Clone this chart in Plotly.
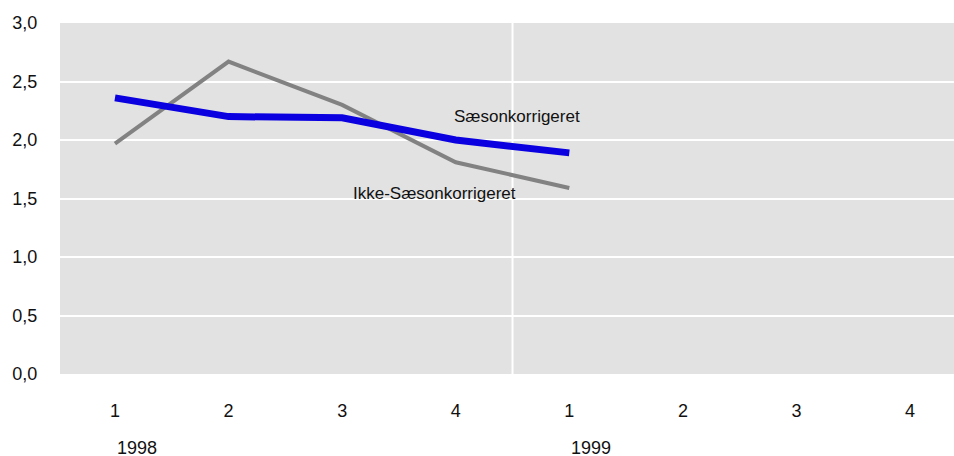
import plotly.graph_objects as go

quarters = ["1", "2", "3", "4", "1", "2", "3", "4"]
years = ["1998", "1999"]
ikke_saeson = [1.97, 2.67, 2.30, 1.81, 1.59]
saeson = [2.36, 2.20, 2.19, 2.00, 1.89]
y_ticks = [0.0, 0.5, 1.0, 1.5, 2.0, 2.5, 3.0]
y_ticktext = ["0,0", "0,5", "1,0", "1,5", "2,0", "2,5", "3,0"]

FONT = "Liberation Sans Narrow, Arial Narrow, Liberation Sans, Arial, sans-serif"
xs = list(range(len(ikke_saeson)))

fig = go.Figure()
fig.add_trace(go.Scatter(x=xs, y=ikke_saeson, mode="lines",
                         line=dict(color="#828282", width=4),
                         name="Ikke-Sæsonkorrigeret", showlegend=False))
fig.add_trace(go.Scatter(x=xs, y=saeson, mode="lines",
                         line=dict(color="#0a00e0", width=7),
                         name="Sæsonkorrigeret", showlegend=False))

fig.add_shape(type="line", xref="x", yref="paper", x0=3.5, x1=3.5, y0=0, y1=1,
              line=dict(color="white", width=2), layer="below")

fig.add_annotation(x=3.54, y=2.205, xref="x", yref="y", text="Sæsonkorrigeret",
                   showarrow=False, xanchor="center", yanchor="middle",
                   font=dict(family=FONT, size=17, color="#111"))
fig.add_annotation(x=2.81, y=1.547, xref="x", yref="y", text="Ikke-Sæsonkorrigeret",
                   showarrow=False, xanchor="center", yanchor="middle",
                   font=dict(family=FONT, size=17, color="#111"))
for i, yr in enumerate(years):
    fig.add_annotation(x=i * 4, y=-0.211, xref="x", yref="paper", text=yr,
                       showarrow=False, xanchor="left", yanchor="middle",
                       font=dict(family=FONT, size=18, color="#111"))

fig.update_layout(
    width=954, height=456,
    margin=dict(l=60, r=0, t=23, b=82),
    paper_bgcolor="white", plot_bgcolor="#e2e2e2",
    font=dict(family=FONT, size=18, color="#111"),
    xaxis=dict(range=[-0.484, 7.387], tickvals=list(range(8)), ticktext=quarters,
               showgrid=False, zeroline=False, showline=False,
               ticks="outside", ticklen=20, tickcolor="rgba(0,0,0,0)"),
    yaxis=dict(range=[0, 3], tickvals=y_ticks, ticktext=y_ticktext,
               showgrid=True, gridcolor="white", gridwidth=2, zeroline=False,
               showline=False, ticks="outside", ticklen=18,
               tickcolor="rgba(0,0,0,0)"),
)
fig.write_html(
    "out.html",
    config={"displayModeBar": False},
    post_script=("document.documentElement.style.margin='0';"
                 "document.body.style.margin='0';"
                 "document.documentElement.style.overflow='hidden';"
                 "document.body.style.overflow='hidden';"),
)
